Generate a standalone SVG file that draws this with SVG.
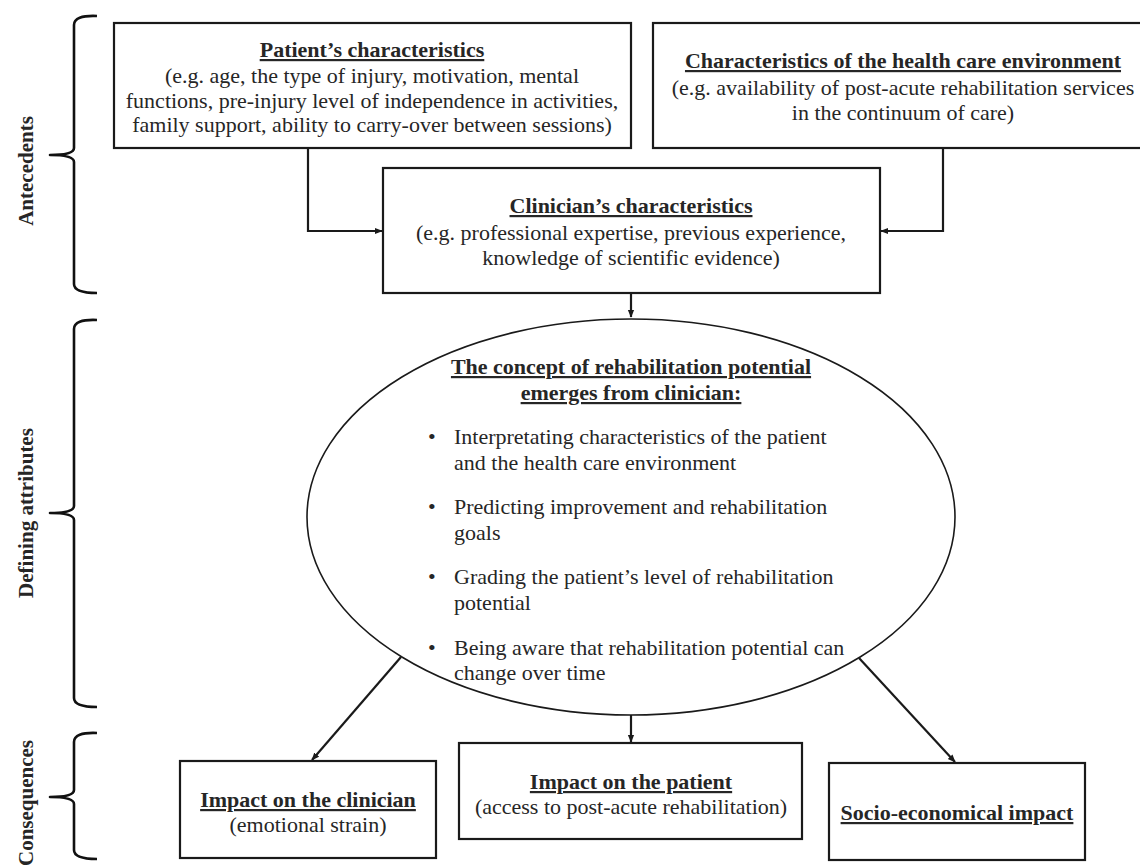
<svg xmlns="http://www.w3.org/2000/svg" width="1140" height="868" viewBox="0 0 1140 868">
  <style>
    .box { fill: #fff; stroke: #1a1a1a; stroke-width: 2.2; }
    .ell { fill: #fff; stroke: #1a1a1a; stroke-width: 1.6; }
    .brace { fill: none; stroke: #111; stroke-width: 2.6; stroke-linejoin: round; }
    .conn { fill: none; stroke: #1a1a1a; stroke-width: 2.2; }
    text { font-family: "Liberation Serif", "Times New Roman", Times, Tinos, "Nimbus Roman", "DejaVu Serif", serif; fill: #262626; font-size: 22px; }
    .c { text-anchor: middle; }
    .t { font-weight: bold; text-decoration: underline; }
    .side { font-weight: bold; font-size: 21px; text-anchor: middle; }
  </style>
  <defs>
    <marker id="arr" viewBox="0 0 10 10" refX="9" refY="5" markerWidth="8" markerHeight="8" markerUnits="userSpaceOnUse" orient="auto">
      <path d="M0,1 L10,5 L0,9 Z" fill="#1a1a1a"/>
    </marker>
  </defs>
  <rect width="1140" height="868" fill="#fff"/>

  <!-- phase braces and labels -->
  <g id="phase-antecedents">
    <path class="brace" d="M97,16 Q74,15 74,25 L74,148 Q74,155 50,155 Q74,155 74,162 L74,284 Q74,293 97,293"/>
    <text class="side" transform="translate(33,171) rotate(-90)">Antecedents</text>
  </g>
  <g id="phase-defining">
    <path class="brace" d="M97,320 Q74,319 74,329 L74,506 Q74,513 50,513 Q74,513 74,520 L74,698 Q74,707 97,707"/>
    <text class="side" transform="translate(33,513) rotate(-90)">Defining attributes</text>
  </g>
  <g id="phase-consequences">
    <path class="brace" d="M97,733 Q74,732 74,742 L74,790 Q74,797 50,797 Q74,797 74,804 L74,850 Q74,859 97,859"/>
    <text class="side" transform="translate(33,803) rotate(-90)">Consequences</text>
  </g>

  <!-- connectors -->
  <g id="connectors">
    <path class="conn" d="M308,148 L308,231 L382,231" marker-end="url(#arr)"/>
    <path class="conn" d="M943,148 L943,231 L881,231" marker-end="url(#arr)"/>
    <path class="conn" d="M631,293 L631,317" marker-end="url(#arr)"/>
    <path class="conn" d="M401,657 L312,760" marker-end="url(#arr)"/>
    <path class="conn" d="M631,715 L631,742" marker-end="url(#arr)"/>
    <path class="conn" d="M859,658 L955,762" marker-end="url(#arr)"/>
  </g>

  <!-- antecedent nodes -->
  <g id="patient-characteristics">
    <rect class="box" x="114" y="23" width="517" height="125"/>
    <text class="c t" x="372" y="57">Patient’s characteristics</text>
    <text class="c" x="372" y="83">(e.g. age, the type of injury, motivation, mental</text>
    <text class="c" x="372" y="108">functions, pre-injury level of independence in activities,</text>
    <text class="c" x="372" y="132">family support, ability to carry-over between sessions)</text>
  </g>
  <g id="health-care-environment">
    <rect class="box" x="653" y="23" width="500" height="125"/>
    <text class="c t" x="903" y="68">Characteristics of the health care environment</text>
    <text class="c" x="903" y="95">(e.g. availability of post-acute rehabilitation services</text>
    <text class="c" x="903" y="120">in the continuum of care)</text>
  </g>
  <g id="clinician-characteristics">
    <rect class="box" x="383" y="168" width="497" height="125"/>
    <text class="c t" x="631" y="213">Clinician’s characteristics</text>
    <text class="c" x="631" y="240">(e.g. professional expertise, previous experience,</text>
    <text class="c" x="631" y="265">knowledge of scientific evidence)</text>
  </g>

  <!-- defining attributes -->
  <g id="rehabilitation-potential">
    <ellipse class="ell" cx="631" cy="517" rx="324" ry="198"/>
    <text class="c t" x="631" y="374">The concept of rehabilitation potential</text>
    <text class="c t" x="631" y="400">emerges from clinician:</text>
    <text x="428" y="444">•</text>
    <text x="454" y="444">Interpretating characteristics of the patient</text>
    <text x="454" y="470">and the health care environment</text>
    <text x="428" y="514">•</text>
    <text x="454" y="514">Predicting improvement and rehabilitation</text>
    <text x="454" y="540">goals</text>
    <text x="428" y="584">•</text>
    <text x="454" y="584">Grading the patient’s level of rehabilitation</text>
    <text x="454" y="610">potential</text>
    <text x="428" y="655">•</text>
    <text x="454" y="655">Being aware that rehabilitation potential can</text>
    <text x="454" y="680">change over time</text>
  </g>

  <!-- consequences -->
  <g id="impact-clinician">
    <rect class="box" x="180" y="761" width="256" height="97"/>
    <text class="c t" x="308" y="807">Impact on the clinician</text>
    <text class="c" x="308" y="832">(emotional strain)</text>
  </g>
  <g id="impact-patient">
    <rect class="box" x="459" y="743" width="343" height="96"/>
    <text class="c t" x="631" y="789">Impact on the patient</text>
    <text class="c" x="631" y="814">(access to post-acute rehabilitation)</text>
  </g>
  <g id="socio-economical-impact">
    <rect class="box" x="829" y="763" width="256" height="97"/>
    <text class="c t" x="957" y="820">Socio-economical impact</text>
  </g>
</svg>
